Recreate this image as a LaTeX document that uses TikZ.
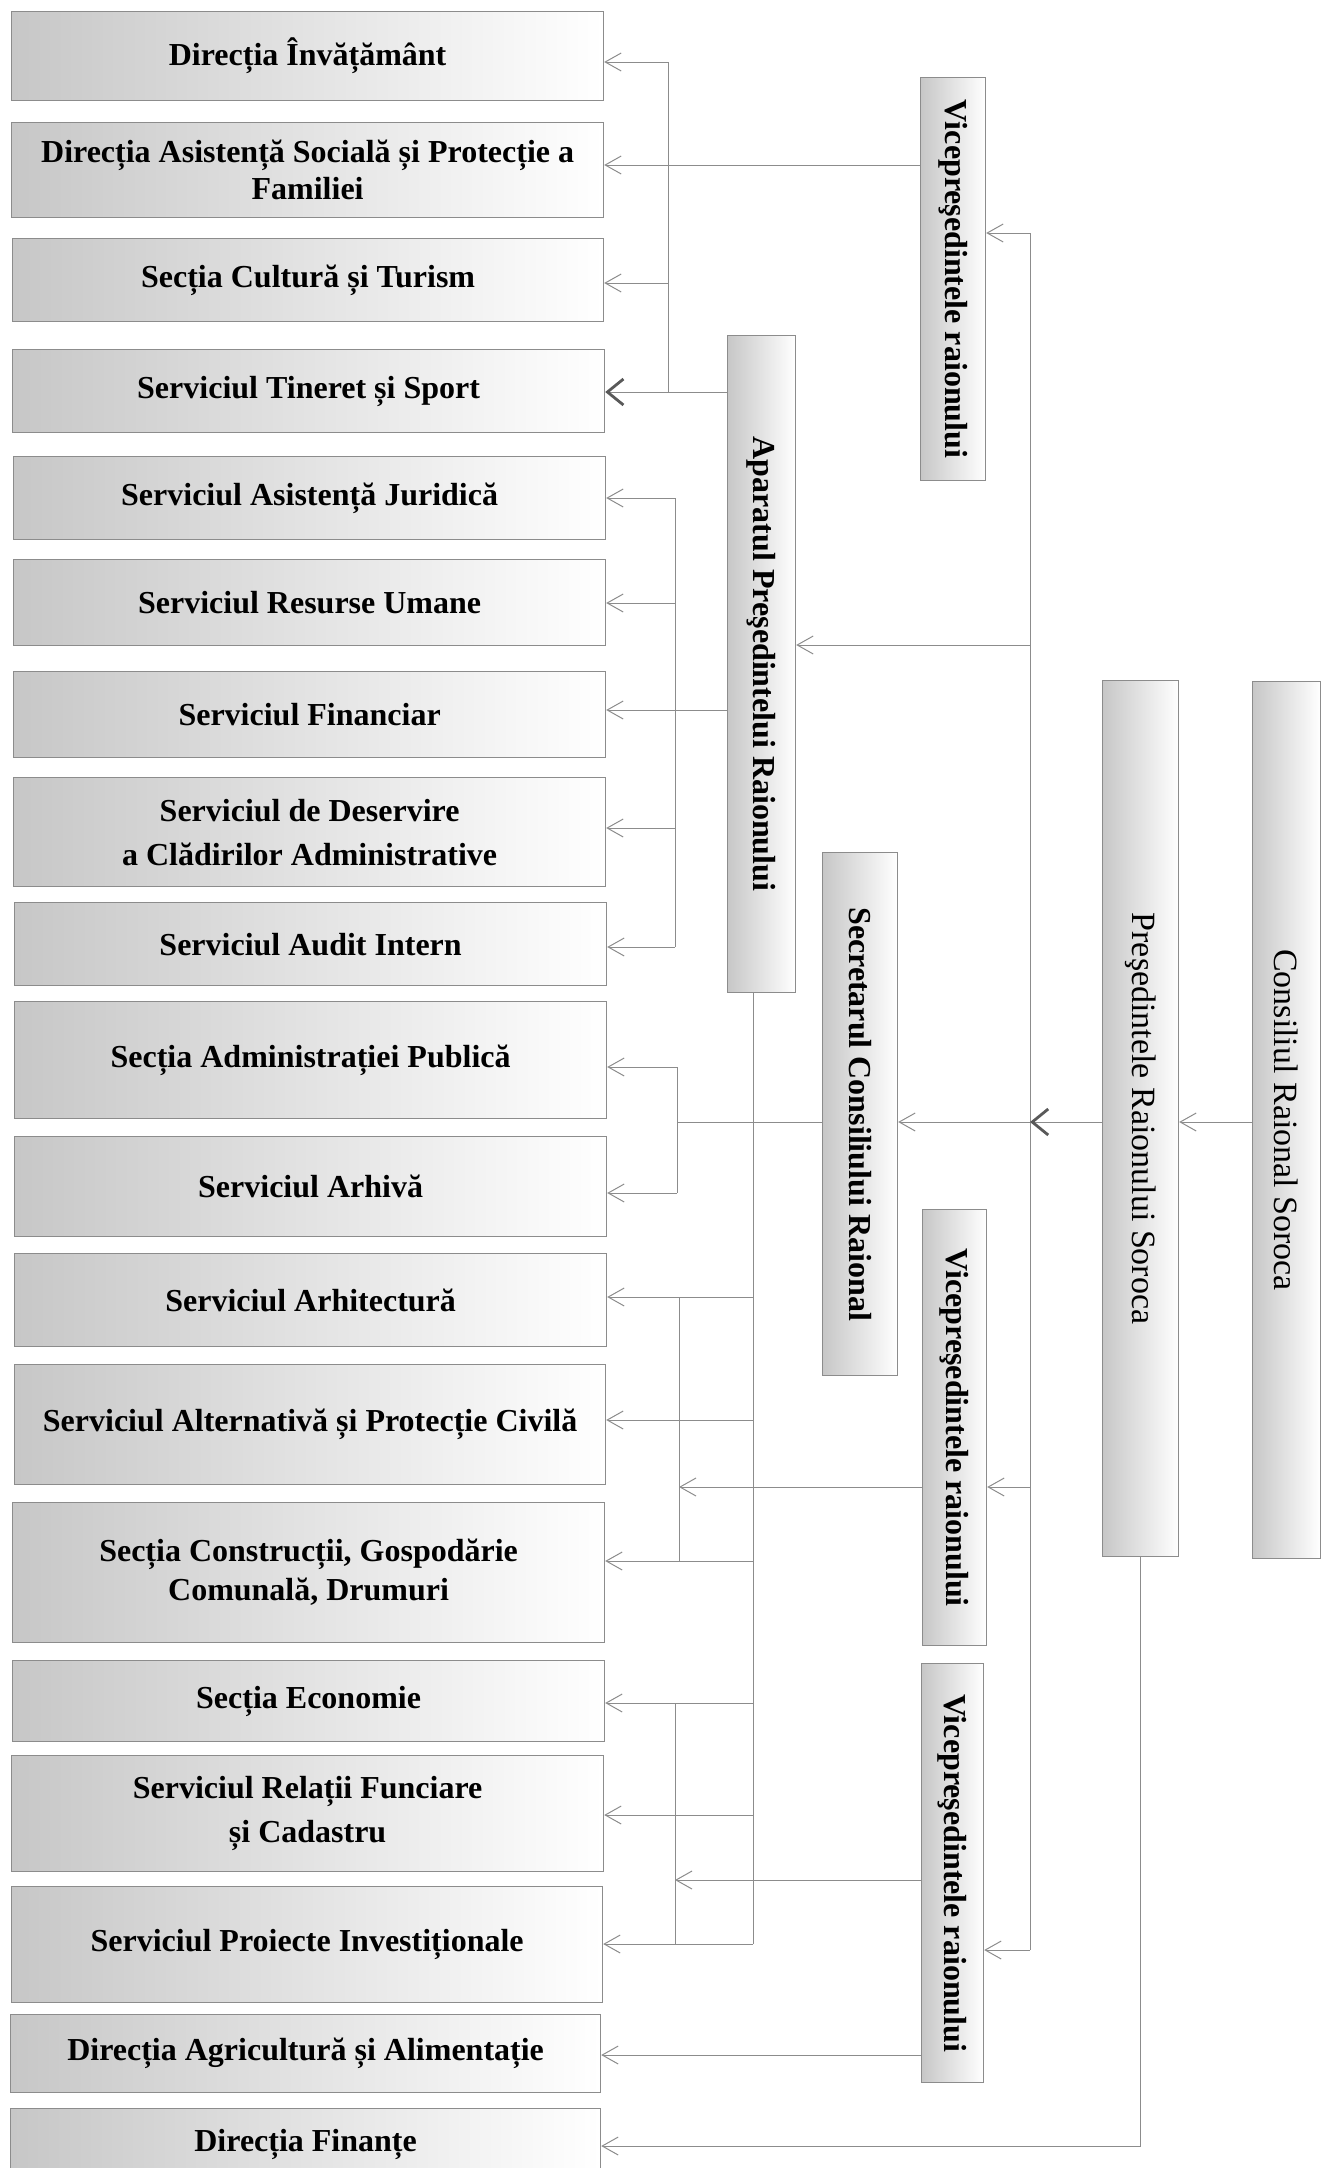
\documentclass[tikz,border=0pt]{standalone}
\usepackage{graphicx}
\usepackage{fontspec}
\setmainfont{Liberation Serif}
\usetikzlibrary{arrows.meta}
\tikzset{
  unitbox/.style={draw=black!45, line width=0.6pt, left color=black!22, right color=white, inner sep=0pt, anchor=north west, align=center},
  lbox/.style={unitbox, font=\bfseries\fontsize{16}{19}\selectfont},
  vbox/.style={unitbox, font=\bfseries\fontsize{16}{19}\selectfont},
  rbox/.style={unitbox, font=\fontsize{17}{20}\selectfont},
  ln/.style={draw=black!45, line width=0.5pt},
  arr/.style={ln, -{Straight Barb[length=8pt,width=9pt,line width=0.5pt]}},
  darr/.style={ln, -{Straight Barb[length=8pt,width=13pt,line width=1.4pt,color=black!65]}},
}
\newcommand{\orgbox}[7]{\node[#1, minimum width={(#5-#3)*0.5pt}, minimum height={(#6-#4)*0.5pt}] (#2) at (#3,#4) {#7};}
\begin{document}
\begin{tikzpicture}[x=0.5pt,y=-0.5pt]
\useasboundingbox (0,0) rectangle (1321,2168);
\clip (0,0) rectangle (1321,2168);
% left column
\orgbox{lbox}{b1}{11}{11}{603}{100}{Direcția Învățământ}
\orgbox{lbox,font=\bfseries\fontsize{16}{18.5}\selectfont}{b2}{11}{122}{603}{217}{Direcția Asistență Socială și Protecție a\\Familiei}
\orgbox{lbox}{b3}{12}{238}{603}{321}{Secția Cultură și Turism}
\orgbox{lbox}{b4}{12}{349}{604}{432}{Serviciul Tineret și Sport}
\orgbox{lbox}{b5}{13}{456}{605}{539}{Serviciul Asistență Juridică}
\orgbox{lbox}{b6}{13}{559}{605}{645}{Serviciul Resurse Umane}
\orgbox{lbox}{b7}{13}{671}{605}{757}{Serviciul Financiar}
\orgbox{lbox,font=\bfseries\fontsize{16}{22}\selectfont}{b8}{13}{777}{605}{886}{Serviciul de Deservire\\a Clădirilor Administrative}
\orgbox{lbox}{b9}{14}{902}{606}{985}{Serviciul Audit Intern}
\orgbox{lbox}{b10}{14}{1001}{606}{1118}{Secția Administrației Publică}
\orgbox{lbox}{b11}{14}{1136}{606}{1236}{Serviciul Arhivă}
\orgbox{lbox}{b12}{14}{1253}{606}{1346}{Serviciul Arhitectură}
\orgbox{lbox}{b13}{14}{1364}{605}{1484}{Serviciul Alternativă și Protecție Civilă}
\orgbox{lbox,font=\bfseries\fontsize{16}{19.5}\selectfont}{b14}{12}{1502}{604}{1642}{Secția Construcții, Gospodărie\\Comunală, Drumuri}
\orgbox{lbox}{b15}{12}{1660}{604}{1741}{Secția Economie}
\orgbox{lbox,font=\bfseries\fontsize{16}{22}\selectfont}{b16}{11}{1755}{603}{1871}{Serviciul Relații Funciare\\și Cadastru}
\orgbox{lbox}{b17}{11}{1886}{602}{2002}{Serviciul Proiecte Investiționale}
\orgbox{lbox}{b18}{10}{2014}{600}{2092}{Direcția Agricultură și Alimentație}
\orgbox{lbox}{b19}{10}{2108}{600}{2180}{Direcția Finanțe}
% vertical boxes
\orgbox{vbox}{v1}{920}{77}{985}{480}{\rotatebox{-90}{Vicepreşedintele raionului}}
\orgbox{vbox}{ap}{727}{335}{795}{992}{\rotatebox{-90}{Aparatul Preşedintelui Raionului}}
\orgbox{vbox}{sec}{822}{852}{897}{1375}{\rotatebox{-90}{Secretarul Consiliului Raional}}
\orgbox{vbox}{v2}{922}{1209}{986}{1645}{\rotatebox{-90}{Vicepreşedintele raionului}}
\orgbox{vbox}{v3}{921}{1663}{983}{2082}{\rotatebox{-90}{Vicepreşedintele raionului}}
\orgbox{rbox}{pres}{1102}{680}{1178}{1556}{\rotatebox{-90}{Preşedintele Raionului Soroca}}
\orgbox{rbox}{cons}{1252}{681}{1320}{1558}{\rotatebox{-90}{Consiliul Raional Soroca}}
% coordinates
\coordinate (t1) at (668,62);
\coordinate (t2) at (668,165);
\coordinate (t3) at (668,283);
\coordinate (t4) at (668,392);
\coordinate (r1) at (1030,233);
\coordinate (r2) at (1030,645);
\coordinate (r3) at (1030,1122);
\coordinate (r4) at (1030,1487);
\coordinate (r5) at (1030,1950);
\coordinate (a1) at (675,498);
\coordinate (a2) at (675,603);
\coordinate (a3) at (675,710);
\coordinate (a4) at (675,828);
\coordinate (a5) at (675,947);
\coordinate (s1) at (677,1067);
\coordinate (s2) at (677,1122);
\coordinate (s3) at (677,1193);
\coordinate (d1) at (753,1297);
\coordinate (d2) at (753,1420);
\coordinate (d3) at (753,1561);
\coordinate (d4) at (753,1703);
\coordinate (d5) at (753,1815);
\coordinate (d6) at (753,1944);
\coordinate (e1) at (679,1297);
\coordinate (e2) at (679,1487);
\coordinate (e3) at (679,1561);
\coordinate (f1) at (675,1703);
\coordinate (f2) at (675,1880);
\coordinate (f3) at (675,1944);
\coordinate (g1) at (0,2055);
\coordinate (h1) at (0,2146);
% top group
\draw[ln] (t1) -- (t4);
\draw[arr] (t1) -- (b1.east |- t1);
\draw[arr] (v1.west |- t2) -- (b2.east |- t2);
\draw[arr] (t3) -- (b3.east |- t3);
\draw[darr] (ap.west |- t4) -- (b4.east |- t4);
% right bus
\draw[ln] (r1) -- (r5);
\draw[arr] (r1) -- (v1.east |- r1);
\draw[arr] (r2) -- (ap.east |- r2);
\draw[arr] (r4) -- (v2.east |- r4);
\draw[arr] (r5) -- (v3.east |- r5);
\draw[arr] (cons.west |- r3) -- (pres.east |- r3);
\draw[darr] (pres.west |- r3) -- (r3);
\draw[arr] (r3) -- (sec.east |- r3);
% aparat group
\draw[ln] (a1) -- (a5);
\draw[arr] (a1) -- (b5.east |- a1);
\draw[arr] (a2) -- (b6.east |- a2);
\draw[arr] (ap.west |- a3) -- (b7.east |- a3);
\draw[arr] (a4) -- (b8.east |- a4);
\draw[arr] (a5) -- (b9.east |- a5);
% secretar group
\draw[ln] (s1) -- (s3);
\draw[ln] (sec.west |- s2) -- (s2);
\draw[arr] (s1) -- (b10.east |- s1);
\draw[arr] (s3) -- (b11.east |- s3);
% aparat lower line
\draw[ln] (ap.south -| d1) -- (d6);
\draw[arr] (d1) -- (b12.east |- d1);
\draw[arr] (d2) -- (b13.east |- d2);
\draw[arr] (d3) -- (b14.east |- d3);
\draw[arr] (d4) -- (b15.east |- d4);
\draw[arr] (d5) -- (b16.east |- d5);
\draw[arr] (d6) -- (b17.east |- d6);
\draw[ln] (e1) -- (e3);
\draw[arr] (v2.west |- e2) -- (e2);
\draw[ln] (f1) -- (f3);
\draw[arr] (v3.west |- f2) -- (f2);
\draw[arr] (v3.west |- g1) -- (b18.east |- g1);
\draw[arr] (pres.south) -- (pres.south |- h1) -- (b19.east |- h1);
\end{tikzpicture}
\end{document}
